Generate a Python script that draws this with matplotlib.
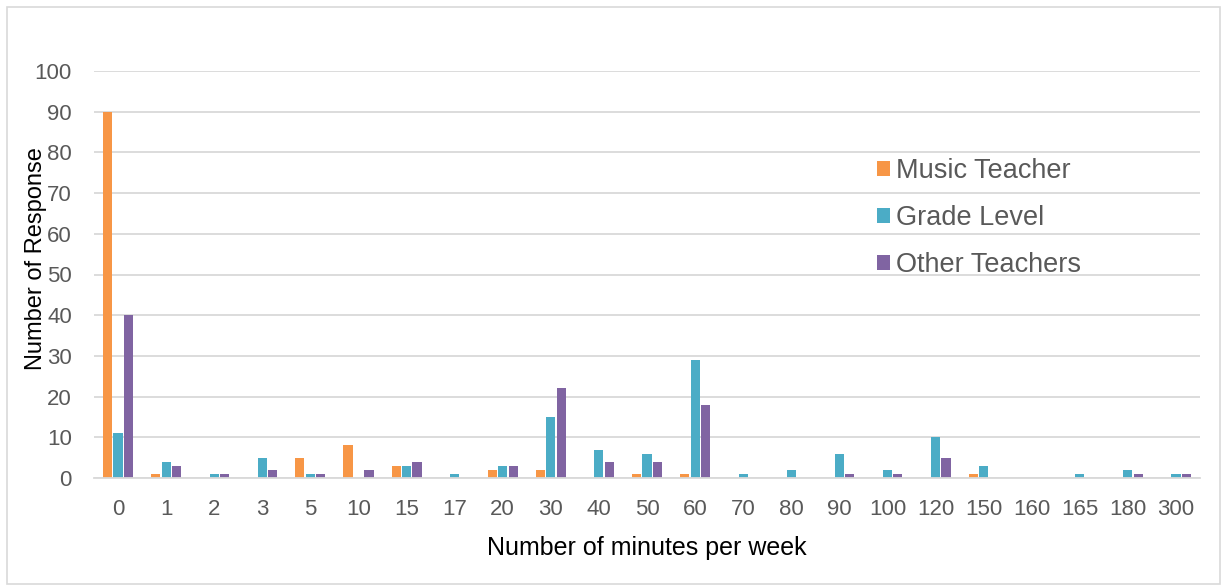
import numpy as np
import matplotlib
matplotlib.use("Agg")
import matplotlib.pyplot as plt
from matplotlib.patches import Rectangle

plt.rcParams['font.family'] = ['Liberation Sans', 'DejaVu Sans']

# data
minutes = ["0", "1", "2", "3", "5", "10", "15", "17", "20", "30", "40", "50",
           "60", "70", "80", "90", "100", "120", "150", "160", "165", "180", "300"]
music_teacher = [90, 1, 0, 0, 5, 8, 3, 0, 2, 2, 0, 1, 1, 0, 0, 0, 0, 0, 1, 0, 0, 0, 0]
grade_level = [11, 4, 1, 5, 1, 0, 3, 1, 3, 15, 7, 6, 29, 1, 2, 6, 2, 10, 3, 0, 1, 2, 1]
other_teachers = [40, 3, 1, 2, 1, 2, 4, 0, 3, 22, 4, 4, 18, 0, 0, 1, 1, 5, 0, 0, 0, 1, 1]

series = [("Music Teacher", music_teacher, "#F79646"),
          ("Grade Level", grade_level, "#4BACC6"),
          ("Other Teachers", other_teachers, "#8064A2")]

W, H = 1222, 586
fig = plt.figure(figsize=(W / 100, H / 100), dpi=100)
ax = fig.add_axes([94 / W, 1 - 478 / H, 1106 / W, 407 / H])

# outer chart border
fig.patches.append(Rectangle((7 / W, 2 / H), 1 - 9 / W, 1 - 9 / H, transform=fig.transFigure,
                             fill=False, edgecolor="#d9d9d9", linewidth=1.2))

x = np.arange(len(minutes))
step = 0.218
width = 0.19
for i, (name, vals, col) in enumerate(series):
    ax.bar(x + (i - 1) * step, vals, width, color=col, label=name, zorder=3)

ax.set_xlim(-0.5, len(minutes) - 0.5)
ax.set_ylim(0, 100)
ax.set_yticks(range(0, 101, 10))
ax.set_xticks(x)
ax.set_xticklabels(minutes)
ax.grid(axis="y", color="#d9d9d9", linewidth=1.3, zorder=0)
for s in ["top", "right", "left"]:
    ax.spines[s].set_visible(False)
ax.spines["bottom"].set_color("#d9d9d9")
ax.spines["bottom"].set_linewidth(1.3)
ax.spines["bottom"].set_zorder(4)
ax.tick_params(axis="both", length=0, labelsize=16, labelcolor="#595959")
ax.tick_params(axis="x", pad=15)
ax.tick_params(axis="y", pad=16)

ax.set_xlabel("Number of minutes per week", fontsize=18, color="#000000")
ax.set_ylabel("Number of Response", fontsize=17, color="#000000")
ax.xaxis.set_label_coords(0.5, -0.142)
ax.yaxis.set_label_coords(-0.0425, 0.54)

leg = ax.legend(loc="upper left", bbox_to_anchor=(877 / W, 1 - 158 / H),
                bbox_transform=fig.transFigure, frameon=False, fontsize=19.5,
                handlelength=0.47, handleheight=0.47, handletextpad=0.25,
                labelspacing=0.78, borderpad=0, borderaxespad=0)
for t in leg.get_texts():
    t.set_color("#595959")

fig.savefig("out.png", dpi=100)
